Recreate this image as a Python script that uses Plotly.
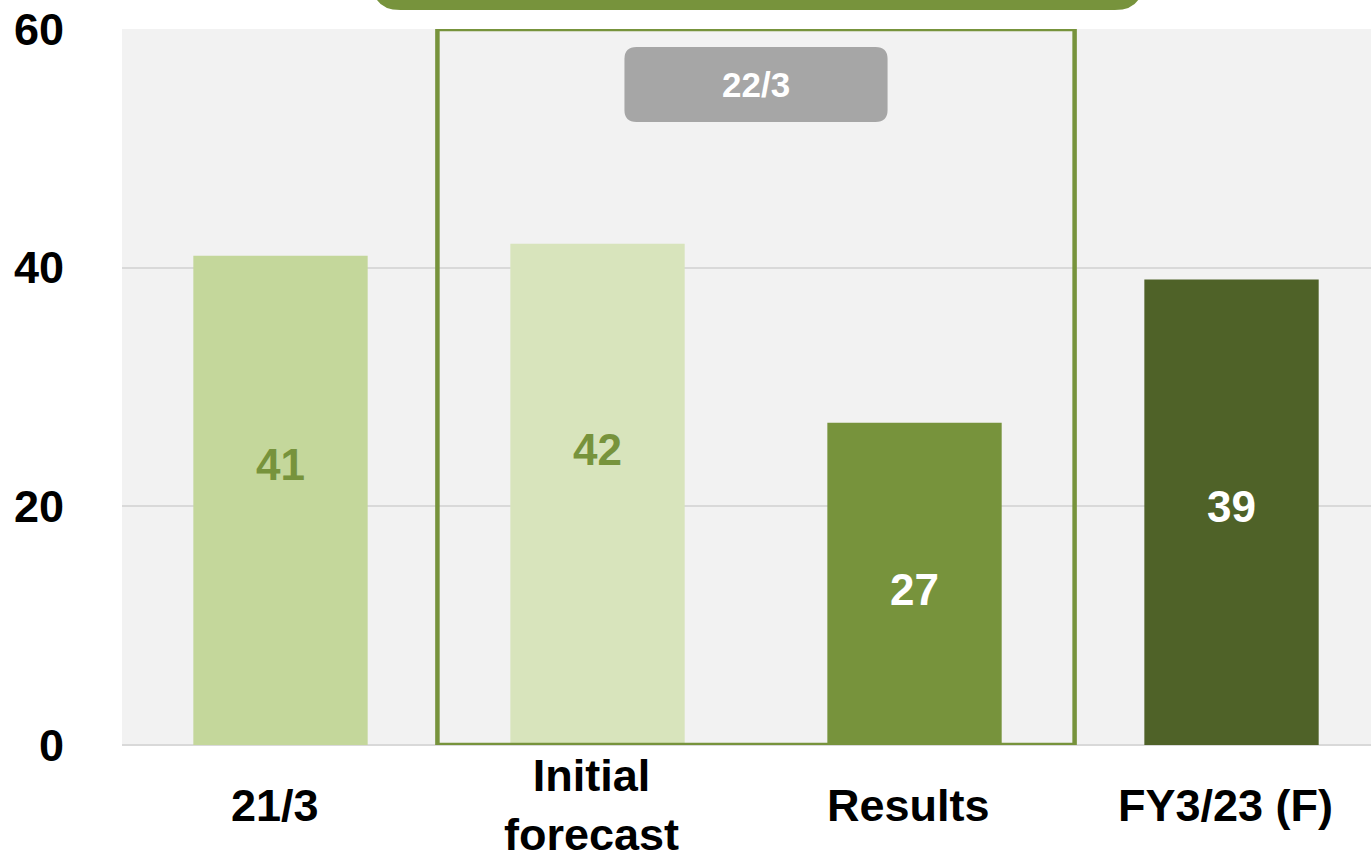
import plotly.graph_objects as go

categories = ["21/3", "Initial<br>forecast", "Results", "FY3/23 (F)"]
values = [41, 42, 27, 39]
bar_colors = ["#c4d79b", "#d8e4bc", "#77933c", "#4f6228"]
text_colors = ["#77933c", "#77933c", "#ffffff", "#ffffff"]
label_shift_px = [36, 45, -6, 6]   # styling: nudge of value labels from bar middle
y_ticks = [0, 20, 40, 60]
group_label = "22/3"

FONT = "Liberation Sans, Arial, sans-serif"
x_idx = list(range(len(categories)))

fig = go.Figure()
fig.add_trace(go.Bar(
    x=x_idx, y=values, width=0.55,
    marker=dict(color=bar_colors, line=dict(width=0)),
    hoverinfo="skip",
))

# value labels
for i, v in enumerate(values):
    fig.add_annotation(x=i, y=v / 2, xref="x", yref="y", text=str(v), showarrow=False,
                       yanchor="middle", yshift=label_shift_px[i],
                       font=dict(family=FONT, size=44, color=text_colors[i], weight="bold"))

# category labels as annotations (vertically centred below axis)
for i, c in enumerate(categories):
    fig.add_annotation(x=i, y=0, xref="x", yref="paper", text=c, showarrow=False,
                       yanchor="middle", yshift=-60, xshift=-6,
                       font=dict(family=FONT, size=45, color="#000000", weight="bold"))

def rounded_rect(x0, x1, y0, y1, rx, ry):
    return (f"M {x0+rx},{y0} L {x1-rx},{y0} Q {x1},{y0} {x1},{y0+ry} "
            f"L {x1},{y1-ry} Q {x1},{y1} {x1-rx},{y1} L {x0+rx},{y1} "
            f"Q {x0},{y1} {x0},{y1-ry} L {x0},{y0+ry} Q {x0},{y0} {x0+rx},{y0} Z")

px_x = 1 / 317.0
px_y = 1 / 716.0

# green pill at the top (cut off)
fig.add_shape(type="path", xref="x", yref="paper",
              path=rounded_rect(0.29, 2.72, 1.0265, 1.2, 28 * px_x, 28 * px_y),
              fillcolor="#77933c", line=dict(width=0), layer="above")

# green outline box around 22/3 group
fig.add_shape(type="rect", xref="x", yref="y", x0=0.495, x1=2.505, y0=0, y1=60,
              line=dict(color="#77933c", width=4.5), fillcolor="rgba(0,0,0,0)", layer="above")

# gray label box
fig.add_shape(type="path", xref="x", yref="paper",
              path=rounded_rect(1.085, 1.915, 0.870, 0.975, 12 * px_x, 12 * px_y),
              fillcolor="#a6a6a6", line=dict(width=0), layer="above")
fig.add_annotation(x=1.5, y=0.9225, xref="x", yref="paper", text=group_label, showarrow=False,
                   yanchor="middle", xanchor="center",
                   font=dict(family=FONT, size=35, color="#ffffff", weight="bold"))

fig.update_layout(
    width=1371, height=858,
    margin=dict(l=122, r=0, t=29, b=113),
    paper_bgcolor="#ffffff", plot_bgcolor="#f2f2f2",
    showlegend=False,
    xaxis=dict(range=[-0.5, 3.44], showticklabels=False, showgrid=False, zeroline=False,
               fixedrange=True),
    yaxis=dict(range=[0, 60], tickvals=y_ticks, showgrid=True, gridcolor="#d9d9d9",
               gridwidth=2, zeroline=True, zerolinecolor="#d9d9d9", zerolinewidth=2,
               ticks="outside", ticklen=48, tickcolor="rgba(0,0,0,0)",
               tickfont=dict(family=FONT, size=45, color="#000000", weight="bold"),
               fixedrange=True),
)

fig.write_html("out.html")
